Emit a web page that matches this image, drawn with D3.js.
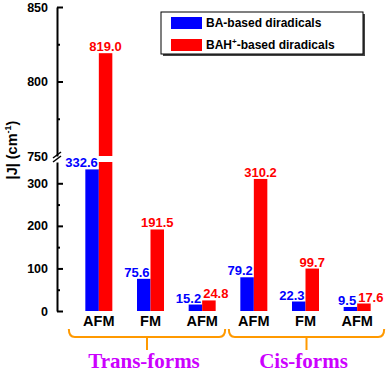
<!DOCTYPE html>
<html lang="en">
<head>
<meta charset="utf-8">
<title>|J| of diradicals</title>
<script src="https://d3js.org/d3.v7.min.js"></script>
<style>
  body { margin: 0; background: #fff; }
  svg text { font-family: "Liberation Sans", Arial, sans-serif; font-weight: bold; }
</style>
</head>
<body>
<script>
// chart values
var categories = ["AFM", "FM", "AFM", "AFM", "FM", "AFM"];
var baValues = [332.6, 75.6, 15.2, 79.2, 22.3, 9.5];
var bahValues = [819.0, 191.5, 24.8, 310.2, 99.7, 17.6];
var groups = [
  { name: "Trans-forms", from: 0, to: 2 },
  { name: "Cis-forms", from: 3, to: 5 }
];
var lowTicks = [0, 100, 200, 300];
var lowMinor = [50, 150, 250];
var highTicks = [750, 800, 850];
var highMinor = [775, 825];

var width = 387, height = 372;
var blue = "#0000ff", red = "#ff0000", orange = "#ff9900", magenta = "#cc00ff";

var svg = d3.select("body").append("svg")
  .attr("width", width)
  .attr("height", height);

// broken y axis: two linear pieces
var axisX = 57;
var yLow = d3.scaleLinear().domain([0, 350]).range([311, 162]);
var yHigh = d3.scaleLinear().domain([750, 850]).range([156, 7]);

var x = d3.scaleBand().domain(d3.range(categories.length)).range([73, 383]);
var barW = 13.5;
function center(i) { return x(i) + x.bandwidth() / 2; }

// axes
function drawAxis(scale, major, minor, showTicks) {
  var g = svg.append("g").attr("transform", "translate(" + axisX + ",0)");
  g.call(d3.axisLeft(scale).tickValues(major).tickSize(-6).tickSizeOuter(0).tickPadding(9).tickFormat(d3.format("d")));
  g.call(function(s) {
    s.select(".domain").attr("stroke-width", 2);
    s.selectAll(".tick line").attr("stroke-width", 2);
    s.selectAll(".tick text").attr("font-size", 12.5).attr("fill", "#000");
    if (!showTicks) s.selectAll(".tick").filter(function(d) { return d === 750; }).select("line").remove();
  });
  var m = svg.append("g").attr("transform", "translate(" + axisX + ",0)");
  m.call(d3.axisLeft(scale).tickValues(minor).tickSize(-3).tickSizeOuter(0).tickFormat(""));
  m.select(".domain").remove();
  m.selectAll(".tick line").attr("stroke-width", 2);
}
drawAxis(yLow, lowTicks, lowMinor, true);
drawAxis(yHigh, highTicks, highMinor, false);

// break marks on the axis
[0, 4].forEach(function(off) {
  svg.append("line")
    .attr("x1", axisX - 4).attr("y1", 158 + off)
    .attr("x2", axisX + 4).attr("y2", 152 + off)
    .attr("stroke", "#000").attr("stroke-width", 1.5);
});

// bars
var bars = svg.append("g");
bars.selectAll(".ba").data(baValues).enter().append("rect")
  .attr("x", function(d, i) { return center(i) - barW; })
  .attr("y", function(d) { return yLow(d); })
  .attr("width", barW)
  .attr("height", function(d) { return yLow(0) - yLow(d); })
  .attr("fill", blue);

bahValues.forEach(function(v, i) {
  var top = Math.min(v, 350);
  bars.append("rect")
    .attr("x", center(i)).attr("y", yLow(top))
    .attr("width", barW).attr("height", yLow(0) - yLow(top))
    .attr("fill", red);
  if (v > 750) {
    bars.append("rect")
      .attr("x", center(i)).attr("y", yHigh(v))
      .attr("width", barW).attr("height", yHigh(750) - yHigh(v))
      .attr("fill", red);
  }
});

function barTop(v) { return v > 750 ? yHigh(v) : yLow(v); }

// value labels
var labels = svg.append("g").attr("font-size", 13);
baValues.forEach(function(v, i) {
  labels.append("text")
    .attr("x", center(i) - 1)
    .attr("y", barTop(v) - 2)
    .attr("text-anchor", "end")
    .attr("fill", blue)
    .text(v.toFixed(1));
});
bahValues.forEach(function(v, i) {
  var close = Math.abs(barTop(v) - barTop(baValues[i])) < 14;
  labels.append("text")
    .attr("x", close ? center(i) + 1 : center(i) + barW / 2)
    .attr("y", barTop(v) - 2)
    .attr("text-anchor", close ? "start" : "middle")
    .attr("fill", red)
    .text(v.toFixed(1));
});

// category labels
svg.append("g").selectAll("text").data(categories).enter().append("text")
  .attr("x", function(d, i) { return center(i); })
  .attr("y", 326)
  .attr("text-anchor", "middle")
  .attr("font-size", 14.5)
  .text(function(d) { return d; });

// group braces and names
groups.forEach(function(g, k) {
  var x0 = center(g.from) - (k === 0 ? 30 : 25);
  var x1 = center(g.to) + (k === 0 ? 23 : 27);
  var mid = (x0 + x1) / 2;
  svg.append("path")
    .attr("d", "M" + x0 + ",329 Q" + x0 + ",337 " + (x0 + 6) + ",337 H" + (x1 - 6) +
      " Q" + x1 + ",337 " + x1 + ",329 M" + mid + ",337 V350")
    .attr("fill", "none")
    .attr("stroke", orange)
    .attr("stroke-width", 2);
  svg.append("text")
    .attr("x", mid - 3)
    .attr("y", 368)
    .attr("text-anchor", "middle")
    .style("font-family", "'Liberation Serif', 'Times New Roman', serif")
    .attr("font-size", 21)
    .attr("fill", magenta)
    .text(g.name);
});

// y axis title
var yt = svg.append("text")
  .attr("transform", "translate(17,150) rotate(-90)")
  .attr("text-anchor", "middle")
  .attr("font-size", 14.5);
yt.append("tspan").text("|J| (cm");
yt.append("tspan").attr("font-size", 9).attr("dy", -6).text("-1");
yt.append("tspan").attr("dy", 6).text(")");

// legend
var lg = svg.append("g").attr("transform", "translate(161,12)");
lg.append("rect").attr("x", 2).attr("y", 2).attr("width", 202).attr("height", 42).attr("fill", "#444");
lg.append("rect").attr("width", 202).attr("height", 42).attr("fill", "#fff").attr("stroke", "#000").attr("stroke-width", 1);
var legendItems = [
  { color: blue, y: 5 },
  { color: red, y: 27 }
];
legendItems.forEach(function(d) {
  lg.append("rect").attr("x", 10).attr("y", d.y).attr("width", 31).attr("height", 12).attr("fill", d.color);
});
lg.append("text").attr("x", 45).attr("y", 15).attr("font-size", 12).text("BA-based diradicals");
var t2 = lg.append("text").attr("x", 45).attr("y", 37).attr("font-size", 12);
t2.append("tspan").text("BAH");
t2.append("tspan").attr("font-size", 8).attr("dy", -5).text("+");
t2.append("tspan").attr("dy", 5).text("-based diradicals");
</script>
</body>
</html>
